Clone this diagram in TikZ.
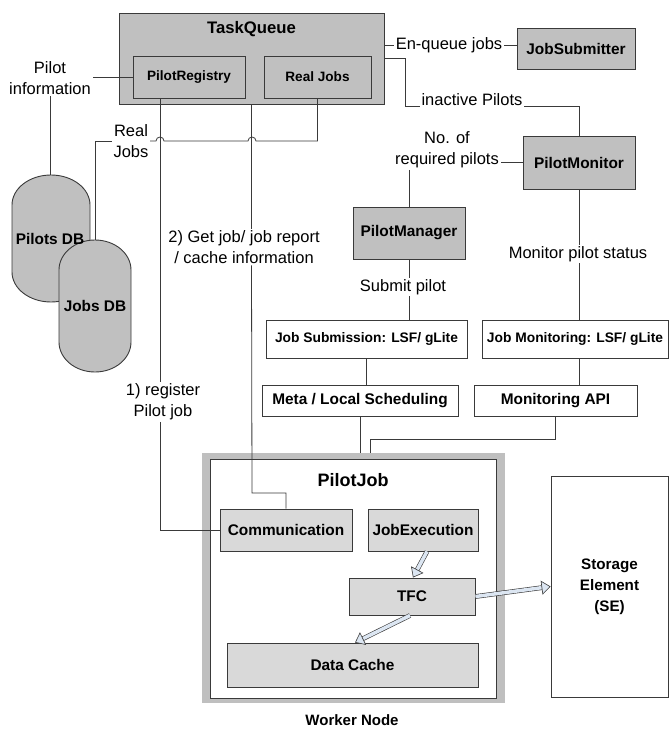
\documentclass[tikz,border=0pt]{standalone}
\usepackage{fontspec}
\setmainfont{Liberation Sans}
\usetikzlibrary{arrows.meta}

\definecolor{boxgray}{HTML}{C0C0C0}
\definecolor{innergray}{HTML}{D9D9D9}
\definecolor{framegray}{HTML}{BFBFBF}
\definecolor{arrowblue}{HTML}{DCE6F2}
\definecolor{linecol}{HTML}{3A3A3A}

\begin{document}
\begin{tikzpicture}[
    x=1pt, y=-1pt,
    box/.style={draw=linecol, line width=0.9pt, fill=boxgray, align=center, inner sep=0pt, font=\bfseries\fontsize{15.4}{18}\selectfont},
    smallbox/.style={box, font=\bfseries\fontsize{13.6}{16}\selectfont},
    whitebox/.style={box, fill=white},
    innerbox/.style={box, fill=innergray},
    lbl/.style={align=center, inner sep=1.5pt, font=\fontsize{16.5}{21}\selectfont},
    line/.style={draw=linecol, line width=0.8pt},
    db/.style={draw=linecol, line width=0.9pt, fill=boxgray},
    blockarrow/.style={draw=linecol, line width=0.6pt, double=arrowblue, double distance=3.5pt,
        -{Triangle[open, fill=arrowblue, length=9pt, width=14pt]}}
]
    \useasboundingbox (0,0) rectangle (670,730);

    % task queue and the services round it
    \node[box, minimum width=265pt, minimum height=91pt,
          label={[anchor=center, yshift=-17pt, font=\bfseries\fontsize{16.7}{20}\selectfont]north:TaskQueue}] (tq) at (251.5,58.5) {};
    \node[smallbox, minimum width=112pt, minimum height=42pt] (preg) at (189,77) {PilotRegistry};
    \node[smallbox, minimum width=107pt, minimum height=42pt] (realjobs) at (317.5,77) {Real Jobs};
    \node[box, minimum width=118pt, minimum height=41pt] (jobsub) at (576,48.5) {JobSubmitter};
    \node[box, minimum width=112pt, minimum height=53pt] (pmon) at (579,162.5) {PilotMonitor};
    \node[box, minimum width=112pt, minimum height=52pt] (pman) at (409,233) {PilotManager};

    \node[whitebox, minimum width=201pt, minimum height=38pt, font=\bfseries\fontsize{13.8}{16}\selectfont] (jsub) at (366.5,339) {Job Submission: LSF/ gLite};
    \node[whitebox, minimum width=196pt, minimum height=31pt] (meta) at (360,400.5) {Meta / Local Scheduling};
    \node[whitebox, minimum width=186pt, minimum height=38pt, font=\bfseries\fontsize{13.8}{16}\selectfont] (jmon) at (575,339) {Job Monitoring: LSF/ gLite};
    \node[whitebox, minimum width=163pt, minimum height=31pt] (mapi) at (555.5,400.5) {Monitoring API};

    % databases
    \draw[db] (12,205) arc[start angle=180, end angle=360, x radius=39, y radius=30]
        -- (90,272) arc[start angle=0, end angle=180, x radius=39, y radius=30] -- cycle;
    \draw[db] (59,270) arc[start angle=180, end angle=360, x radius=36, y radius=30]
        -- (131,342) arc[start angle=0, end angle=180, x radius=36, y radius=30] -- cycle;
    \node[box, draw=none, fill=none, minimum width=78pt, minimum height=127pt] (pdb) at (50,238.5) {Pilots DB};
    \node[box, draw=none, fill=none, minimum width=72pt, minimum height=132pt] (jdb) at (95,306) {Jobs DB};

    % worker node
    \node[draw=none, fill=framegray, minimum width=303pt, minimum height=250pt] (pjframe) at (353.5,578) {};
    \node[draw=linecol, line width=0.9pt, fill=white, minimum width=286pt, minimum height=239pt,
          label={[anchor=center, yshift=-22pt, font=\bfseries\fontsize{18}{20}\selectfont]north:PilotJob}] (pj) at (353,578.5) {};
    \node[innerbox, minimum width=132pt, minimum height=42pt] (comm) at (286,530) {Communication};
    \node[innerbox, minimum width=110pt, minimum height=42pt] (jexec) at (423,530) {JobExecution};
    \node[innerbox, minimum width=126pt, minimum height=37pt] (tfc) at (412,596.5) {TFC};
    \node[innerbox, minimum width=251pt, minimum height=44pt] (dcache) at (352.5,665) {Data Cache};
    \node[inner sep=0pt, font=\bfseries\fontsize{15}{18}\selectfont] (wn) at (352,720) {Worker Node};
    \node[whitebox, minimum width=117pt, minimum height=221pt, font=\bfseries\fontsize{15.2}{21}\selectfont] (se) at (609.5,586.5) {Storage\\Element\\(SE)};

    % connector labels
    \node[lbl] (pinfo) at (50,78) {Pilot\\information};
    \node[lbl] (rjl) at (131,141) {Real\\Jobs};
    \node[lbl] (getjob) at (244,247) {2) Get job/ job report\\/ cache information};
    \node[lbl] (reg) at (163,402) {1) register\\Pilot job};
    \node[lbl] (enq) at (449,45) {En-queue jobs};
    \node[lbl, anchor=base] (inact) at (472,106) {inactive Pilots};
    \node[lbl] (nreq) at (447,150) {No. of\\required pilots};
    \node[lbl] (mstat) at (578,254) {Monitor pilot status};
    \node[lbl] (spil) at (403,287) {Submit pilot};

    % connectors
    \draw[line] (tq.east |- enq) -- (enq) -- (jobsub.west |- enq);
    \draw[line] (tq.east) -| (405,106) -- (inact.base west);
    \draw[line] (inact.base east) -| (pmon.north);
    \draw[line] (pmon.west) -- (nreq.east |- pmon.west);
    \draw[line] (nreq.south -| pman.north) -- (pman.north);
    \draw[line] (pman.south) -- (spil.north -| pman.south);
    \draw[line] (spil.south -| pman.south) -- (jsub.north -| pman.south);
    \draw[line] (jsub.south) -- (meta.north -| jsub.south);
    \draw[line] (pmon.south) -- (mstat.north -| pmon.south);
    \draw[line] (mstat.south -| pmon.south) -- (jmon.north -| pmon.south);
    \draw[line] (jmon.south -| pmon.south) -- (mapi.north -| pmon.south);
    \draw[line] (meta.south) -- (meta.south |- pjframe.north);
    \draw[line] (mapi.south) |- ([xshift=16.5pt, yshift=13pt]pjframe.north) -- ([xshift=16.5pt]pjframe.north);

    \draw[line] (preg.west) -- (pinfo.east |- preg.west);
    \draw[line] (pinfo.south) -- (pinfo.south |- pdb.north);
    \draw[line] (realjobs.south) -- (317.5,141) -- (256,141)
        arc[start angle=0, end angle=-180, radius=4] -- (164,141)
        arc[start angle=0, end angle=-180, radius=4] -- (rjl.east);
    \draw[line] (rjl.west) -| (jdb.north);
    \draw[line] ([xshift=-29pt]preg.south) coordinate (r1) -- (reg.north -| r1);
    \draw[line] (reg.south -| r1) |- (comm.west);
    \draw[line] (tq.south) -- (getjob.north -| tq.south);
    \draw[line] (getjob.south -| tq.south) -- (252,493) -| (comm.north);

    \draw[blockarrow] ([xshift=4pt]jexec.south) -- ([xshift=1pt]tfc.north);
    \draw[blockarrow] ([xshift=-2pt]tfc.south) -- ([xshift=2.5pt]dcache.north);
    \draw[blockarrow] (tfc.east) -- (se.west);
\end{tikzpicture}
\end{document}
